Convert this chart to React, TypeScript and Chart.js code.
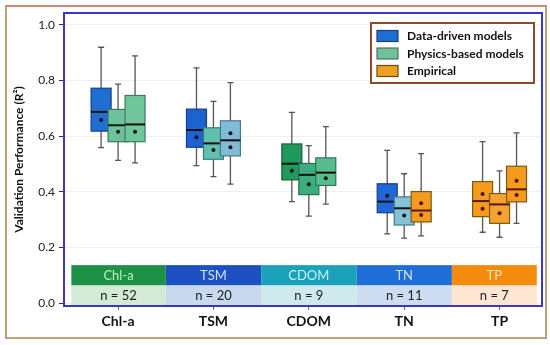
import React, { useEffect, useRef } from 'react';
import { Chart, registerables } from 'chart.js';

Chart.register(...registerables);

// ---------- DATA ----------
const categories = ['Chl-a', 'TSM', 'CDOM', 'TN', 'TP'];
const sampleCounts = [52, 20, 9, 11, 7];
const legendLabels = ['Data-driven models', 'Physics-based models', 'Empirical'];
const yTickValues = [0, 0.2, 0.4, 0.6, 0.8, 1.0];

// 15 boxes, three per category (slot -1, 0, +1)
const boxCategory = [0, 0, 0, 1, 1, 1, 2, 2, 2, 3, 3, 3, 4, 4, 4];
const boxSlot = [-1, 0, 1, -1, 0, 1, -1, 0, 1, -1, 0, 1, -1, 0, 1];
const whiskerLow = [0.559, 0.513, 0.504, 0.494, 0.455, 0.428, 0.365, 0.313, 0.356, 0.249, 0.234, 0.242, 0.255, 0.237, 0.287];
const q1 = [0.618, 0.58, 0.58, 0.56, 0.517, 0.529, 0.443, 0.39, 0.423, 0.325, 0.281, 0.292, 0.311, 0.287, 0.364];
const median = [0.687, 0.639, 0.642, 0.622, 0.574, 0.585, 0.501, 0.461, 0.469, 0.365, 0.341, 0.333, 0.367, 0.355, 0.409];
const q3 = [0.772, 0.696, 0.746, 0.697, 0.63, 0.655, 0.572, 0.502, 0.522, 0.429, 0.382, 0.401, 0.437, 0.394, 0.492];
const whiskerHigh = [0.919, 0.787, 0.888, 0.845, 0.725, 0.792, 0.685, 0.566, 0.634, 0.549, 0.465, 0.537, 0.58, 0.475, 0.612];
const meanMain = [0.658, 0.616, 0.616, 0.596, 0.55, 0.61, 0.476, 0.427, 0.449, 0.386, 0.315, 0.359, 0.392, 0.323, 0.44];
const meanSecond = [null, null, null, null, null, 0.56, null, null, null, null, null, 0.317, 0.339, null, 0.389];

// ---------- STYLE ----------
const boxFill = ['#1f6fd2', '#6cc39b', '#70c79c', '#1e62d2', '#5fc0ae', '#80bcd8', '#1f9a5c', '#3aae7c', '#58bd8c', '#1f66d8', '#84c2d8', '#f49a1c', '#f49a1c', '#f4a232', '#f49a1c'];
const boxStroke = ['#1b3c8c', '#3f7a60', '#3f7a60', '#1b3c8c', '#3d7a74', '#4a7688', '#1d5e3c', '#2a6e50', '#2f7554', '#1b3c8c', '#4a7688', '#7a5a10', '#7a5a10', '#7a5a10', '#7a5a10'];
const medianColor = ['#111', '#111', '#111', '#111', '#111', '#111', '#111', '#111', '#111', '#111', '#111', '#5a1500', '#5a1500', '#5a1500', '#5a1500'];
const dotColor = ['#111', '#111', '#111', '#111', '#111', '#111', '#111', '#111', '#111', '#111', '#111', '#5a0a00', '#5a0a00', '#5a0a00', '#5a0a00'];
const bandTopColor = ['#1d9146', '#1d50c0', '#1ca2b8', '#1f6ed8', '#f58b0c'];
const bandTextColor = ['#b8f0c4', '#d0e0ff', '#c4f2ff', '#d0e4ff', '#ffe4bc'];
const bandBottomColor = ['#d3ead7', '#c8d9ee', '#cfe9ed', '#cddcf0', '#fde6d2'];
const legendFill = ['#1f6fd2', '#6cc39b', '#f0a020'];
const legendStroke = ['#1b3c8c', '#5a6a60', '#6a4a10'];

const SLOT = 0.178; // category units between neighbouring boxes
const BOX_W = 20;
const BAND_TOP = 0.137;
const BAND_SPLIT = 0.064;
const BAND_BOTTOM = -0.006;

const FONT = 'Lato, "Open Sans", sans-serif';

const boxX = (i: number) => boxCategory[i] + boxSlot[i] * SLOT;

const decorPlugin = {
  id: 'decor',
  beforeDatasetsDraw(chart: any) {
    const { ctx, scales } = chart;
    const xs = scales.x;
    const ys = scales.y;
    ctx.save();
    // bands
    const yT = ys.getPixelForValue(BAND_TOP);
    const yS = ys.getPixelForValue(BAND_SPLIT);
    const yB = ys.getPixelForValue(BAND_BOTTOM);
    categories.forEach((cat, i) => {
      const left = xs.getPixelForValue(i === 0 ? -0.49 : i - 0.5);
      const right = xs.getPixelForValue(i === categories.length - 1 ? 4.39 : i + 0.5);
      ctx.fillStyle = bandTopColor[i];
      ctx.fillRect(left, yT, right - left, yS - yT);
      ctx.fillStyle = bandBottomColor[i];
      ctx.fillRect(left, yS, right - left, yB - yS);
      ctx.textAlign = 'center';
      ctx.textBaseline = 'middle';
      ctx.font = '13px ' + FONT;
      ctx.fillStyle = bandTextColor[i];
      ctx.fillText(cat, (left + right) / 2, (yT + yS) / 2 + 0.5);
      ctx.fillStyle = '#222';
      ctx.fillText('n = ' + sampleCounts[i], (left + right) / 2, (yS + yB) / 2 + 0.5);
    });
    // boxes
    for (let i = 0; i < boxCategory.length; i++) {
      const cx = xs.getPixelForValue(boxX(i));
      const yLo = ys.getPixelForValue(whiskerLow[i]);
      const yHi = ys.getPixelForValue(whiskerHigh[i]);
      const yQ1 = ys.getPixelForValue(q1[i]);
      const yQ3 = ys.getPixelForValue(q3[i]);
      const yMed = ys.getPixelForValue(median[i]);
      ctx.strokeStyle = '#555';
      ctx.lineWidth = 1.3;
      ctx.beginPath();
      ctx.moveTo(cx, yHi);
      ctx.lineTo(cx, yLo);
      ctx.moveTo(cx - 3, yHi);
      ctx.lineTo(cx + 3, yHi);
      ctx.moveTo(cx - 3, yLo);
      ctx.lineTo(cx + 3, yLo);
      ctx.stroke();
      ctx.fillStyle = boxFill[i];
      ctx.fillRect(cx - BOX_W / 2, yQ3, BOX_W, yQ1 - yQ3);
      ctx.strokeStyle = boxStroke[i];
      ctx.lineWidth = 1.2;
      ctx.strokeRect(cx - BOX_W / 2, yQ3, BOX_W, yQ1 - yQ3);
      ctx.strokeStyle = medianColor[i];
      ctx.lineWidth = 2;
      ctx.beginPath();
      ctx.moveTo(cx - BOX_W / 2, yMed);
      ctx.lineTo(cx + BOX_W / 2, yMed);
      ctx.stroke();
    }
    ctx.restore();
  },
  afterDraw(chart: any) {
    const { ctx, chartArea } = chart;
    ctx.save();
    // plot frame
    ctx.strokeStyle = '#3b36c8';
    ctx.lineWidth = 2;
    ctx.strokeRect(chartArea.left, chartArea.top, chartArea.right - chartArea.left, chartArea.bottom - chartArea.top);
    // outer frame
    ctx.strokeStyle = '#b9a47c';
    ctx.lineWidth = 2;
    ctx.strokeRect(6, 6, 540, 332);
    ctx.strokeStyle = '#cf8a70';
    ctx.beginPath();
    ctx.moveTo(6, 6);
    ctx.lineTo(546, 6);
    ctx.stroke();
    // legend
    const lx = 371, ly = 23, lw = 163, lh = 60;
    ctx.fillStyle = '#fff';
    ctx.fillRect(lx, ly, lw, lh);
    ctx.strokeStyle = '#8c4a2c';
    ctx.lineWidth = 2;
    ctx.strokeRect(lx, ly, lw, lh);
    legendLabels.forEach((lab, i) => {
      const cy = 36 + i * 17.5;
      ctx.fillStyle = legendFill[i];
      ctx.fillRect(377, cy - 5.5, 21, 11);
      ctx.strokeStyle = legendStroke[i];
      ctx.lineWidth = 1.2;
      ctx.strokeRect(377, cy - 5.5, 21, 11);
      ctx.fillStyle = '#111';
      ctx.font = 'bold 12px ' + FONT;
      ctx.textAlign = 'left';
      ctx.textBaseline = 'middle';
      ctx.fillText(lab, 407, cy + 0.5);
    });
    ctx.restore();
  },
};

export default function App() {
  const ref = useRef<HTMLCanvasElement | null>(null);
  useEffect(() => {
    if (!ref.current) return;
    const mainPts: any[] = [];
    const mainCols: string[] = [];
    const secPts: any[] = [];
    const secCols: string[] = [];
    for (let i = 0; i < boxCategory.length; i++) {
      mainPts.push({ x: boxX(i), y: meanMain[i] });
      mainCols.push(dotColor[i]);
      if (meanSecond[i] !== null) {
        secPts.push({ x: boxX(i), y: meanSecond[i] });
        secCols.push(dotColor[i]);
      }
    }
    const chart = new Chart(ref.current, {
      type: 'scatter',
      data: {
        datasets: [
          { data: mainPts, pointRadius: 2, pointBackgroundColor: mainCols, pointBorderWidth: 0 },
          { data: secPts, pointRadius: 2, pointBackgroundColor: secCols, pointBorderWidth: 0 },
        ],
      },
      options: {
        responsive: false,
        animation: false,
        events: [],
        layout: { padding: { left: 0, right: 8, top: 13, bottom: 0 } },
        plugins: { legend: { display: false }, tooltip: { enabled: false } },
        scales: {
          x: {
            type: 'linear',
            min: -0.567,
            max: 4.445,
            afterFit: (s: any) => { s.height = 39; },
            afterBuildTicks: (s: any) => { s.ticks = categories.map((_, i) => ({ value: i })); },
            grid: { drawOnChartArea: false, drawTicks: true, tickLength: 4, tickColor: '#666' },
            border: { display: false },
            ticks: {
              padding: 3,
              autoSkip: false,
              maxRotation: 0,
              color: '#111',
              font: { family: FONT, size: 14, weight: 'bold' },
              callback: (v: any) => categories[Math.round(v)] ?? '',
            },
          },
          y: {
            min: -0.0097,
            max: 1.042,
            afterFit: (s: any) => { s.width = 64; },
            afterBuildTicks: (s: any) => { s.ticks = yTickValues.map((v) => ({ value: v })); },
            grid: { color: '#efefef', tickColor: '#333', tickLength: 5 },
            border: { display: false },
            ticks: {
              padding: 4,
              color: '#222',
              font: { family: FONT, size: 12 },
              callback: (v: any) => Number(v).toFixed(1),
            },
            title: {
              display: true,
              text: 'Validation Performance (R²)',
              color: '#111',
              font: { family: FONT, size: 12, weight: 'bold' },
              padding: { top: 12, bottom: 0 },
            },
          },
        },
      },
      plugins: [decorPlugin],
    });
    return () => chart.destroy();
  }, []);
  return (
    <div style={{ position: 'absolute', left: 0, top: 0, width: 550, height: 345, background: '#fff' }}>
      <canvas ref={ref} width={550} height={345} style={{ display: 'block' }} />
    </div>
  );
}
